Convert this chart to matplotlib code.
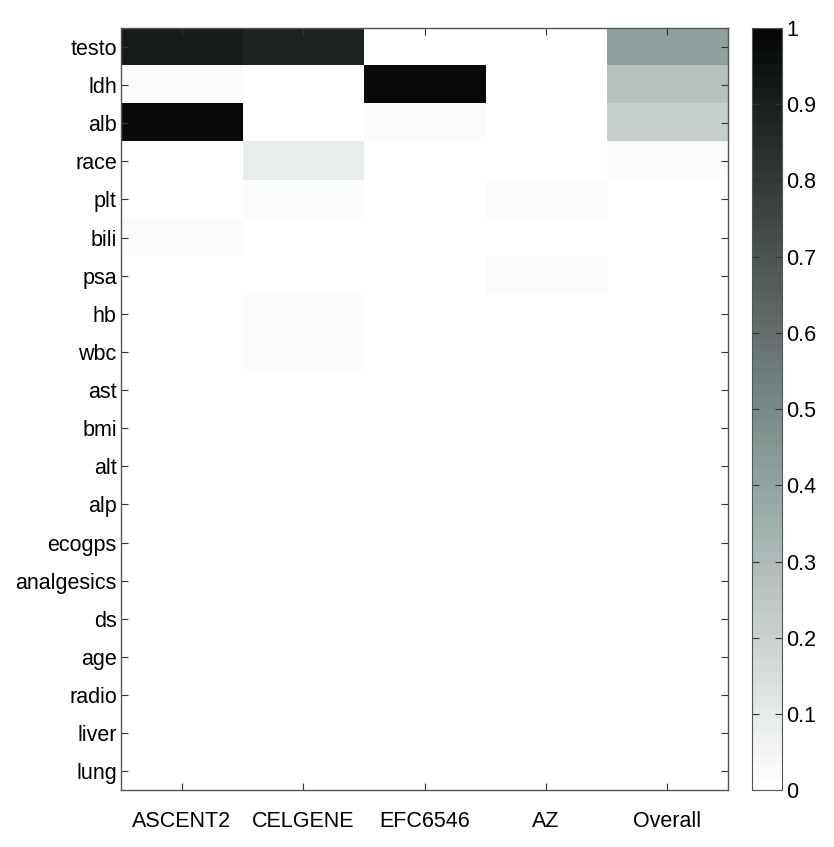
import numpy as np
import matplotlib
matplotlib.use("Agg")
import matplotlib.pyplot as plt
from matplotlib.colors import LinearSegmentedColormap

features = ["testo", "ldh", "alb", "race", "plt", "bili", "psa", "hb", "wbc", "ast",
            "bmi", "alt", "alp", "ecogps", "analgesics", "ds", "age", "radio", "liver", "lung"]
studies = ["ASCENT2", "CELGENE", "EFC6546", "AZ", "Overall"]

ascent2 = [0.91, 0.02, 0.98, 0.0, 0.0, 0.03, 0.0, 0.0, 0.0, 0.0, 0, 0, 0, 0, 0, 0, 0, 0, 0, 0]
celgene = [0.88, 0.0, 0.0, 0.08, 0.02, 0.0, 0.0, 0.017, 0.017, 0.0, 0, 0, 0, 0, 0, 0, 0, 0, 0, 0]
efc6546 = [0.0, 0.97, 0.02, 0.0, 0.0, 0.0, 0.0, 0.0, 0.0, 0.0, 0, 0, 0, 0, 0, 0, 0, 0, 0, 0]
az = [0.0, 0.0, 0.0, 0.0, 0.02, 0.0, 0.02, 0.0, 0.0, 0.0, 0, 0, 0, 0, 0, 0, 0, 0, 0, 0]
overall = [0.42, 0.28, 0.21, 0.02, 0.0, 0.0, 0.0, 0.0, 0.0, 0.0, 0, 0, 0, 0, 0, 0, 0, 0, 0, 0]

data = np.array([ascent2, celgene, efc6546, az, overall]).T

plt.rcParams['font.family'] = ['Liberation Sans', 'DejaVu Sans']

cmap = LinearSegmentedColormap.from_list(
    "tealgray",
    [(0.0, (1.0, 1.0, 1.0)),
     (0.42, (0.55, 0.62, 0.61)),
     (1.0, (0.02, 0.025, 0.025))], N=64)

fig = plt.figure(figsize=(8.34, 8.47), dpi=100)
ax = fig.add_axes([0.145, 0.067, 0.728, 0.900])
im = ax.imshow(data, cmap=cmap, vmin=0, vmax=1, aspect='auto', interpolation='nearest')
ax.set_xticks(range(len(studies)))
ax.set_xticklabels(studies, fontsize=15.5)
ax.set_yticks(range(len(features)))
ax.set_yticklabels(features, fontsize=15.5)
ax.tick_params(direction='in', length=5, top=True, right=True, color='#333333', width=0.8, pad=3)
ax.tick_params(axis='x', pad=15)
for s in ax.spines.values():
    s.set_color('#555555')
    s.set_linewidth(1)

cax = fig.add_axes([0.9017, 0.067, 0.036, 0.900])
cb = fig.colorbar(im, cax=cax, ticks=np.arange(0, 1.01, 0.1))
cb.ax.set_yticklabels(["0", "0.1", "0.2", "0.3", "0.4", "0.5", "0.6", "0.7", "0.8", "0.9", "1"])
cb.ax.tick_params(direction='in', length=5, labelsize=15.5, left=True, right=True, color='#333333', pad=3)
cb.outline.set_edgecolor('#555555')

fig.savefig("out.png", dpi=100)
